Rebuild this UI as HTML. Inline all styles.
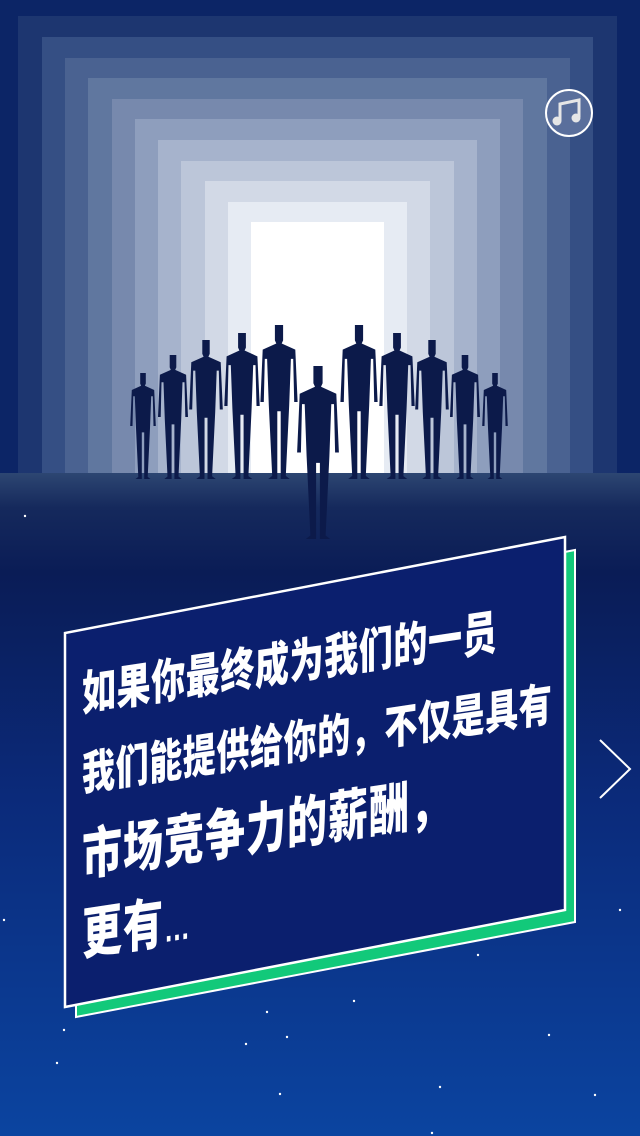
<!DOCTYPE html>
<html><head><meta charset="utf-8"><style>
html,body{margin:0;padding:0;width:640px;height:1136px;overflow:hidden;background:#0a1f5c}
#scene{position:absolute;left:0;top:0;width:640px;height:1136px}
.txt{position:absolute;left:82px;top:0;width:540px;height:1136px;transform:skewY(-8.5deg);transform-origin:0 0}
.ln{position:absolute;left:0;white-space:nowrap;color:#fff;font-family:"Liberation Sans","Noto Sans CJK SC",sans-serif;font-weight:900;transform-origin:0 0}
</style></head><body>
<svg id="scene" width="640" height="1136" viewBox="0 0 640 1136">
<defs>
<linearGradient id="ground" x1="0" y1="0" x2="0" y2="1">
<stop offset="0" stop-color="#2d4672"/><stop offset="0.35" stop-color="#15295c"/><stop offset="1" stop-color="#0a1c56"/>
</linearGradient>
<linearGradient id="sky" x1="0" y1="0" x2="0" y2="1">
<stop offset="0" stop-color="#0a1c56"/><stop offset="0.4" stop-color="#0b2a7a"/><stop offset="1" stop-color="#0b44a0"/>
</linearGradient>
</defs>
<rect x="0" y="0" width="640" height="480" fill="#0c2566"/>
<g id="frames">
<rect x="18" y="16" width="599" height="460" fill="#1d3670"/>
<rect x="42" y="37" width="551" height="440" fill="#354f84"/>
<rect x="65" y="58" width="505" height="420" fill="#4a6291"/>
<rect x="88" y="78" width="459" height="400" fill="#60779f"/>
<rect x="112" y="99" width="411" height="380" fill="#7789ad"/>
<rect x="135" y="119" width="365" height="360" fill="#8e9ebd"/>
<rect x="158" y="140" width="319" height="340" fill="#a6b3cc"/>
<rect x="181" y="161" width="273" height="320" fill="#bcc6d9"/>
<rect x="205" y="181" width="225" height="300" fill="#d2d9e6"/>
<rect x="228" y="202" width="179" height="280" fill="#e6ebf3"/>
<rect x="251" y="222" width="133" height="260" fill="#ffffff"/>
</g>
<rect x="0" y="473" width="640" height="100" fill="url(#ground)"/>
<rect x="0" y="572" width="640" height="564" fill="url(#sky)"/>
<g id="people" fill="#0c1a4a"></g>
<g id="stars" fill="#ffffff"></g>
<polygon points="76,1017 575,922 575,550 76,645" fill="#12c97a" stroke="#fff" stroke-width="2"/>
<polygon points="65,1007 565,910 565,537 65,633" fill="#0b1f6e" stroke="#fff" stroke-width="2.5"/>
<g>
<circle cx="569" cy="113" r="23" fill="#5a6f9c" stroke="#fff" stroke-width="2"/>
<path d="M560 121 V104 L579 100 V117" stroke="#e6e6e6" stroke-width="3" fill="none"/>
<circle cx="557" cy="121" r="4.5" fill="#e6e6e6"/><circle cx="576" cy="118" r="4.5" fill="#e6e6e6"/>
</g>
<polyline points="600,740 630,769 600,798" fill="none" stroke="#fff" stroke-width="2"/>
</svg>
<div class="txt">
<div class="ln" style="top:656px;font-size:34px;letter-spacing:0.6px;transform:scaleY(1.4)">如果你最终成为我们的一员</div>
<div class="ln" style="top:737px;font-size:33px;letter-spacing:0.6px;transform:scaleY(1.4)">我们能提供给你的，不仅是具有</div>
<div class="ln" style="top:811px;font-size:40px;letter-spacing:1px;transform:scaleY(1.4)">市场竞争力的薪酬，</div>
<div class="ln" style="top:890px;font-size:40px;letter-spacing:1px;transform:scaleY(1.4)">更有<span style="font-size:26px">…</span></div>
</div>
<script>
const personX=[143,173,206,242,279,359,397,432,465,495];
const personTop=[373,355,340,333,325,325,333,340,355,373];
const g=document.getElementById('people');
function person(cx,top,bottom){
  const h=bottom-top, w=h*0.22;
  const y=t=>top+t*h, x=s=>cx+s*w;
  const pts=[[-0.12,0],[0.12,0],[0.12,0.1],[0.08,0.12],[0.48,0.16],[0.55,0.5],[0.45,0.5],[0.42,0.22],[0.35,0.22],[0.3,0.52],[0.2,0.98],[0.32,1],[0.05,1],[0.05,0.56],[-0.05,0.56],[-0.05,1],[-0.32,1],[-0.2,0.98],[-0.3,0.52],[-0.35,0.22],[-0.42,0.22],[-0.45,0.5],[-0.55,0.5],[-0.48,0.16],[-0.08,0.12],[-0.12,0.1]];
  const p=document.createElementNS('http://www.w3.org/2000/svg','polygon');
  p.setAttribute('points',pts.map(q=>x(q[0]).toFixed(1)+','+y(q[1]).toFixed(1)).join(' '));
  
  
  g.appendChild(p);
}
personX.forEach((px,i)=>person(px,personTop[i],479));
person(318,366,539);
const starX=[4,64,117,57,267,246,287,280,291,308,354,432,478,518,549,595,620,25,440,570];
const starY=[920,1030,1158,1063,1012,1044,1037,1094,1164,943,1001,1133,955,1162,1035,1095,910,516,1087,1140];
const sg=document.getElementById('stars');
starX.forEach((sx,i)=>{if(starY[i]>1134)return;
  const c=document.createElementNS('http://www.w3.org/2000/svg','circle');
  c.setAttribute('cx',sx);c.setAttribute('cy',starY[i]);c.setAttribute('r',1.2);
  
  
  sg.appendChild(c);});
</script>
</body></html>
